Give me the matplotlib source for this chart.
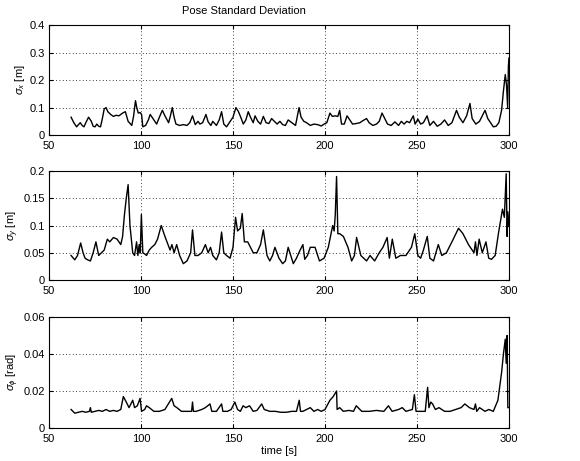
import matplotlib
matplotlib.use("Agg")
import matplotlib.pyplot as plt

plt.rcParams['font.family'] = ['Liberation Sans', 'DejaVu Sans']
plt.rcParams['mathtext.fontset'] = 'custom'
plt.rcParams['mathtext.rm'] = 'Liberation Sans'
plt.rcParams['mathtext.it'] = 'Liberation Sans:italic'

title = "Pose Standard Deviation"
xlabel = "time [s]"
ylabels = [r"$\sigma_x$ [m]", r"$\sigma_y$ [m]", r"$\sigma_\phi$ [rad]"]
xticks = [50, 100, 150, 200, 250, 300]
yticks_x = [0, 0.1, 0.2, 0.3, 0.4]
yticks_y = [0, 0.05, 0.1, 0.15, 0.2]
yticks_phi = [0, 0.02, 0.04, 0.06]
ytick_labels_x = ["0", "0.1", "0.2", "0.3", "0.4"]
ytick_labels_y = ["0", "0.05", "0.1", "0.15", "0.2"]
ytick_labels_phi = ["0", "0.02", "0.04", "0.06"]

# sigma_x : (time, value)
sigma_x_pts = [
    (62, 0.065), (63.5, 0.045), (65, 0.030), (66, 0.038), (67, 0.045), (68, 0.035), (69, 0.030), (70, 0.045),
    (71.5, 0.065), (73, 0.050), (74, 0.032), (75, 0.030), (76, 0.040), (77, 0.032), (78, 0.030), (79, 0.060),
    (80, 0.095), (81, 0.100), (82, 0.085), (83.5, 0.075), (85, 0.068), (86.5, 0.072), (88, 0.070), (90, 0.080),
    (91.5, 0.085), (93, 0.050), (95, 0.035), (96, 0.070), (97, 0.125), (97.7, 0.100), (98.5, 0.080),
    (99.5, 0.082), (100.3, 0.075), (101, 0.030), (102.5, 0.035), (104, 0.055), (105, 0.075), (106.5, 0.060),
    (108.5, 0.040), (110, 0.065), (111.6, 0.090), (113, 0.070), (115, 0.045), (116, 0.070), (117, 0.100),
    (118, 0.065), (119, 0.040), (121, 0.035), (123, 0.038), (125, 0.035), (126.5, 0.045), (128, 0.070),
    (129.5, 0.038), (131, 0.050), (132, 0.040), (133.5, 0.045), (135.3, 0.075), (136.5, 0.048), (138, 0.035),
    (139, 0.050), (141, 0.035), (142.5, 0.055), (143.8, 0.085), (145, 0.040), (146.5, 0.030), (148, 0.045),
    (150, 0.065), (151.6, 0.100), (153, 0.085), (154.5, 0.060), (155.6, 0.040), (157, 0.055), (158.3, 0.085),
    (159.5, 0.065), (161, 0.045), (162, 0.070), (163.5, 0.050), (165, 0.040), (166.5, 0.068), (168, 0.045),
    (169.5, 0.042), (171, 0.060), (172.5, 0.050), (174, 0.040), (175.5, 0.050), (177, 0.038), (178.5, 0.035),
    (180, 0.055), (182, 0.045), (184, 0.035), (185.9, 0.100), (187, 0.065), (188.5, 0.050), (190, 0.045),
    (192, 0.035), (194, 0.040), (196, 0.038), (198, 0.033), (199.5, 0.040), (201, 0.045), (202.7, 0.080),
    (204, 0.068), (205.5, 0.070), (207, 0.068), (208, 0.090), (209, 0.040), (210.5, 0.040), (212, 0.070),
    (213.5, 0.055), (215, 0.040), (217, 0.042), (219, 0.045), (220.5, 0.052), (222.6, 0.060), (224, 0.045),
    (226, 0.035), (228, 0.040), (229.5, 0.050), (231, 0.080), (232.5, 0.060), (234, 0.040), (236, 0.035),
    (238, 0.048), (240, 0.035), (241.5, 0.050), (243, 0.040), (244.5, 0.050), (246, 0.045), (248, 0.070),
    (249, 0.040), (250.5, 0.058), (252, 0.040), (253.5, 0.045), (255.5, 0.070), (257, 0.035), (259, 0.050),
    (261, 0.032), (263, 0.040), (265, 0.055), (267, 0.035), (269, 0.045), (271.5, 0.090), (273, 0.065),
    (275, 0.045), (277, 0.070), (278.8, 0.115), (280, 0.060), (282, 0.040), (284, 0.050), (285.5, 0.070),
    (287, 0.090), (288.5, 0.060), (290, 0.045), (291.5, 0.030), (293, 0.032), (294.5, 0.045), (296, 0.090),
    (297, 0.160), (298, 0.220), (298.7, 0.180), (299.3, 0.100), (299.7, 0.250), (300, 0.280),
]

# sigma_y : (time, value)
sigma_y_pts = [
    (62, 0.045), (64, 0.037), (65.5, 0.045), (67.2, 0.068), (68.5, 0.050), (69.6, 0.040), (71, 0.037),
    (72.5, 0.035), (74, 0.050), (75.5, 0.070), (77, 0.045), (78.5, 0.050), (80, 0.055), (81.7, 0.075),
    (83, 0.070), (85, 0.078), (87, 0.075), (89, 0.065), (90, 0.080), (91, 0.120), (92, 0.150), (93, 0.175),
    (94, 0.100), (95.5, 0.050), (96.5, 0.045), (97.6, 0.070), (98.3, 0.045), (99, 0.065), (99.6, 0.050),
    (100.2, 0.120), (101, 0.050), (102, 0.048), (103, 0.045), (104.5, 0.055), (105.8, 0.060), (107.5, 0.065),
    (109, 0.075), (111, 0.100), (113, 0.080), (115.8, 0.055), (116.8, 0.065), (118, 0.050), (119.4, 0.065),
    (121, 0.045), (123, 0.030), (125, 0.035), (127, 0.050), (128, 0.092), (129.3, 0.045), (131, 0.045),
    (133, 0.050), (135, 0.065), (136.5, 0.050), (137.8, 0.060), (139, 0.045), (141, 0.037), (142.5, 0.050),
    (143.8, 0.088), (145, 0.050), (146.5, 0.045), (148.4, 0.040), (150, 0.060), (151.4, 0.115), (152.5, 0.090),
    (154, 0.095), (155, 0.122), (156.2, 0.070), (158, 0.070), (161, 0.050), (163, 0.050), (165, 0.065),
    (166.5, 0.092), (168.5, 0.045), (170, 0.035), (171.5, 0.045), (172.8, 0.060), (175, 0.040), (177, 0.030),
    (178.5, 0.035), (180, 0.060), (182.8, 0.030), (184.5, 0.040), (186.5, 0.055), (188, 0.065), (189, 0.038),
    (190.5, 0.045), (192, 0.060), (194.6, 0.060), (197, 0.035), (199.5, 0.040), (201.8, 0.060), (203, 0.080),
    (204.2, 0.100), (205, 0.090), (205.6, 0.120), (206.3, 0.190), (207, 0.085), (208, 0.085), (210, 0.080),
    (212.5, 0.060), (214.5, 0.035), (216, 0.045), (217.2, 0.078), (219.5, 0.045), (222.6, 0.035),
    (224.5, 0.045), (227, 0.035), (229.5, 0.050), (231.5, 0.060), (233.8, 0.078), (235, 0.040), (236.6, 0.075),
    (238.5, 0.040), (241, 0.045), (244, 0.045), (247, 0.060), (248.8, 0.085), (250.5, 0.045), (252, 0.040),
    (253.5, 0.055), (255.6, 0.080), (257, 0.040), (259, 0.035), (261.6, 0.065), (263.5, 0.045), (266, 0.050),
    (269, 0.070), (272.6, 0.095), (275, 0.085), (278, 0.065), (281, 0.050), (281.8, 0.070), (282.6, 0.045),
    (283.8, 0.075), (285.5, 0.050), (287.5, 0.070), (289, 0.040), (290.5, 0.038), (292.5, 0.045),
    (294.5, 0.090), (296.5, 0.130), (297.5, 0.115), (298.5, 0.195), (299, 0.080), (299.4, 0.125), (300, 0.100),
]

# sigma_phi : (time, value)
sigma_phi_pts = [
    (62, 0.010), (64, 0.008), (66, 0.0085), (68, 0.009), (70, 0.0085), (72, 0.009), (72.5, 0.011),
    (73, 0.0085), (75, 0.009), (77, 0.0095), (79, 0.009), (81, 0.010), (83, 0.009), (85, 0.0095), (87, 0.009),
    (89, 0.010), (90.4, 0.017), (92, 0.014), (93.5, 0.011), (95.5, 0.015), (96.5, 0.011), (98, 0.012),
    (99.5, 0.016), (100.3, 0.009), (102, 0.010), (103, 0.012), (104.5, 0.011), (107, 0.009), (110, 0.009),
    (113, 0.010), (116.7, 0.016), (118, 0.012), (119.5, 0.011), (122, 0.009), (125, 0.009), (127.5, 0.009),
    (128, 0.014), (128.5, 0.009), (130, 0.009), (133, 0.010), (135, 0.011), (137.5, 0.013), (138.5, 0.009),
    (141, 0.009), (143.8, 0.013), (144.5, 0.009), (147, 0.009), (149, 0.010), (151, 0.014), (152.5, 0.010),
    (154, 0.009), (155.5, 0.012), (157, 0.011), (159, 0.012), (161, 0.009), (163, 0.0095), (165.6, 0.013),
    (167, 0.010), (170, 0.009), (173, 0.009), (176, 0.0085), (179, 0.0085), (182, 0.009), (184.5, 0.009),
    (186, 0.015), (186.7, 0.009), (188, 0.009), (192, 0.011), (194, 0.009), (196, 0.010), (198, 0.009),
    (200, 0.010), (202.7, 0.015), (204.5, 0.017), (206.3, 0.020), (206.6, 0.010), (208, 0.011), (210, 0.009),
    (213, 0.0095), (215.5, 0.009), (217, 0.012), (220, 0.009), (224, 0.009), (228, 0.0095), (232, 0.009),
    (234.5, 0.012), (236.5, 0.009), (240, 0.010), (242, 0.011), (244, 0.009), (247.5, 0.010), (248.6, 0.018),
    (249.5, 0.009), (252, 0.009), (254.5, 0.009), (255.8, 0.022), (256.5, 0.011), (257.5, 0.014),
    (258.5, 0.013), (260, 0.010), (262, 0.011), (265, 0.009), (268, 0.009), (271, 0.010), (274, 0.011),
    (276, 0.013), (278.5, 0.011), (281, 0.010), (281.8, 0.013), (282.5, 0.009), (284, 0.011), (287, 0.009),
    (289, 0.010), (291.5, 0.009), (294, 0.015), (296, 0.030), (297, 0.040), (298, 0.048), (298.5, 0.035),
    (299, 0.050), (299.4, 0.011), (300, 0.011),
]

t_x, sx = zip(*sigma_x_pts)
t_y, sy = zip(*sigma_y_pts)
t_p, sphi = zip(*sigma_phi_pts)

fig = plt.figure(figsize=(5.8, 4.61), dpi=100)
rects = [[0.0845, 0.707, 0.793, 0.2386],
         [0.0845, 0.3926, 0.793, 0.2364],
         [0.0845, 0.0716, 0.793, 0.2408]]
series = [(t_x, sx, yticks_x, ytick_labels_x, 0.4),
          (t_y, sy, yticks_y, ytick_labels_y, 0.2),
          (t_p, sphi, yticks_phi, ytick_labels_phi, 0.06)]

for i, (rect, (t, v, yt, ytl, ymax)) in enumerate(zip(rects, series)):
    ax = fig.add_axes(rect)
    ax.plot(t, v, color='black', linewidth=1.0)
    ax.set_xlim(50, 300)
    ax.set_ylim(0, ymax)
    ax.set_xticks(xticks)
    ax.set_xticklabels([str(x) for x in xticks], fontsize=8)
    ax.set_yticks(yt)
    ax.set_yticklabels(ytl, fontsize=8)
    ax.tick_params(direction='in', length=3, width=0.8, top=True, right=True)
    ax.tick_params(axis='x', pad=4.5)
    ax.tick_params(axis='y', pad=3)
    ax.grid(True, color='black', linestyle=(0, (1, 3)), linewidth=0.6)
    for s in ax.spines.values():
        s.set_linewidth(0.8)
    ax.set_ylabel(ylabels[i], fontsize=8, labelpad=2)
    if i == 2:
        ax.set_xlabel(xlabel, fontsize=8, labelpad=1)

fig.text(0.42, 0.976, title, ha='center', va='center', fontsize=8)
fig.savefig("out.png", dpi=100)
